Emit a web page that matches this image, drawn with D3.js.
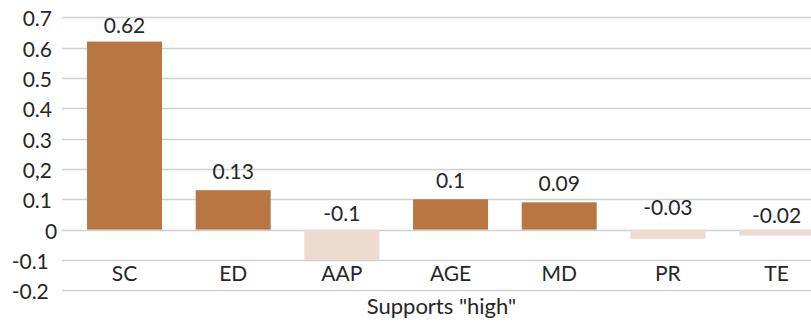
<!DOCTYPE html>
<html>
<head>
<meta charset="utf-8">
<script src="https://cdn.jsdelivr.net/npm/d3@7"></script>
<style>
  html, body { margin: 0; padding: 0; background: #fff; }
  svg { display: block; }
  text { font-family: Lato, "Open Sans", sans-serif; fill: #262626; }
</style>
</head>
<body>
<svg id="chart" width="811" height="327"></svg>
<script>
// Coefficients for the "high" support group
const categories = ["SC", "ED", "AAP", "AGE", "MD", "PR", "TE"];
const values = [0.62, 0.13, -0.1, 0.1, 0.09, -0.03, -0.02];
const tickValues = [0.7, 0.6, 0.5, 0.4, 0.3, 0.2, 0.1, 0, -0.1, -0.2];
const tickLabels = ["0.7", "0.6", "0.5", "0.4", "0.3", "0,2", "0.1", "0", "-0.1", "-0.2"];
const axisTitle = 'Supports "high"';

const W = 811, H = 327;
const svg = d3.select("#chart");

const x = d3.scaleBand()
  .domain(categories)
  .range([70.2, 830.9])
  .paddingInner(0.31)
  .paddingOuter(0.155);

const y = d3.scaleLinear()
  .domain([-0.2, 0.7])
  .range([290.3, 17.3]);

const posColor = "#B77642";
const negColor = "#EDDBCF";

// horizontal gridlines
svg.append("g")
  .selectAll("line")
  .data(tickValues)
  .join("line")
  .attr("x1", 62).attr("x2", W)
  .attr("y1", d => Math.round(y(d)) + 0.5)
  .attr("y2", d => Math.round(y(d)) + 0.5)
  .attr("stroke", "#d0d0d0")
  .attr("stroke-width", 1.3);

// y tick labels
svg.append("g")
  .selectAll("text")
  .data(tickValues)
  .join("text")
  .attr("x", d => d > 0 ? 52 : (d === 0 ? 57.3 : 48.8))
  .attr("y", d => y(d) + 9)
  .attr("text-anchor", "end")
  .attr("font-size", 21)
  .text((d, i) => tickLabels[i]);

// bars
svg.append("g")
  .selectAll("rect")
  .data(categories)
  .join("rect")
  .attr("x", d => x(d))
  .attr("width", x.bandwidth())
  .attr("y", (d, i) => y(Math.max(0, values[i])))
  .attr("height", (d, i) => Math.abs(y(values[i]) - y(0)))
  .attr("fill", (d, i) => values[i] >= 0 ? posColor : negColor);

// value labels: above bar for positives, just above the zero line for negatives
const negLift = { AAP: 9, PR: 15, TE: 7 };
svg.append("g")
  .selectAll("text")
  .data(categories)
  .join("text")
  .attr("x", d => x(d) + x.bandwidth() / 2)
  .attr("y", (d, i) => values[i] >= 0
    ? Math.max(y(values[i]) - 11.5, 33.3)
    : y(0) - negLift[d])
  .attr("text-anchor", "middle")
  .attr("font-size", 21)
  .text((d, i) => String(values[i]));

// category labels
svg.append("g")
  .selectAll("text")
  .data(categories)
  .join("text")
  .attr("x", d => x(d) + x.bandwidth() / 2)
  .attr("y", 281)
  .attr("text-anchor", "middle")
  .attr("font-size", 21)
  .text(d => d);

// axis title
svg.append("text")
  .attr("x", 441.5)
  .attr("y", 314)
  .attr("text-anchor", "middle")
  .attr("font-size", 22)
  .text(axisTitle);
</script>
</body>
</html>
